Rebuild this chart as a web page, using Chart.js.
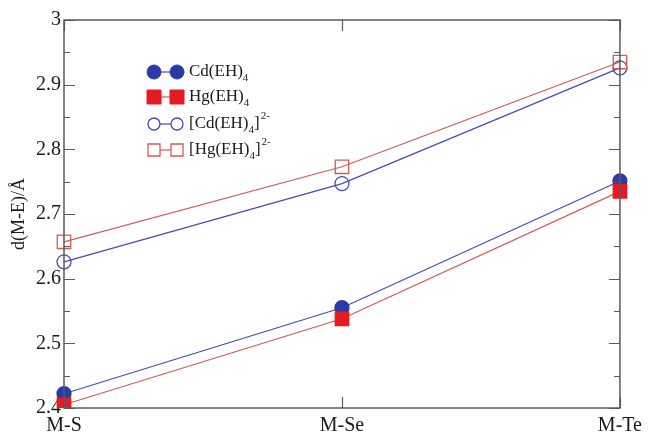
<!DOCTYPE html>
<html>
<head>
<meta charset="utf-8">
<script src="https://cdn.jsdelivr.net/npm/chart.js@4/dist/chart.umd.min.js"></script>
<style>
  html, body { margin: 0; padding: 0; background: #fff; }
  #wrap { width: 648px; height: 432px; }
</style>
</head>
<body>
<div id="wrap"><canvas id="myChart" width="648" height="432"></canvas></div>
<script>
// categories and values
const categories = ["M-S", "M-Se", "M-Te"];
const cdNeutral = [2.422, 2.555, 2.751];
const hgNeutral = [2.405, 2.538, 2.735];
const cdAnion = [2.626, 2.747, 2.926];
const hgAnion = [2.657, 2.773, 2.935];
const yTickLabels = [2.4, 2.5, 2.6, 2.7, 2.8, 2.9, 3];

const blue = "#2b3aa6";
const blueLine = "#4a4ab0";
const red = "#e61b22";
const redLine = "#d45a5a";
const frame = "#5a5a5a";
const serif = "'Liberation Serif', 'DejaVu Serif', serif";

// inward ticks plus the full box round the plot
const frameTicks = {
  id: "frameTicks",
  afterDraw(chart) {
    const c = chart.ctx;
    const a = chart.chartArea;
    const y = chart.scales.y;
    const x = chart.scales.x;
    c.save();
    c.strokeStyle = frame;
    c.lineWidth = 1.5;
    c.strokeRect(a.left, a.top, a.right - a.left, a.bottom - a.top);
    c.lineWidth = 1.2;
    c.beginPath();
    for (let i = 0; i < yTickLabels.length * 2 - 1; i++) {
      const v = 2.4 + i * 0.05;
      const py = Math.round(y.getPixelForValue(v)) + 0.5;
      const len = i % 2 === 0 ? 11 : 6;
      c.moveTo(a.left, py); c.lineTo(a.left + len, py);
      c.moveTo(a.right, py); c.lineTo(a.right - len, py);
    }
    categories.forEach((cat, i) => {
      const px = Math.round(x.getPixelForValue(i)) + 0.5;
      c.moveTo(px, a.bottom); c.lineTo(px, a.bottom - 11);
      c.moveTo(px, a.top); c.lineTo(px, a.top + 11);
    });
    c.stroke();
    c.restore();
  }
};

// legend with two markers joined by a line, sub- and superscripts
const legendEntries = [
  { name: "Cd(EH)", sup: "", style: "circle", fill: blue, stroke: blue, line: blueLine, r: 7 },
  { name: "Hg(EH)", sup: "", style: "rect", fill: red, stroke: red, line: redLine, r: 7 },
  { name: "[Cd(EH)", sup: "2-", style: "circle", fill: "#fff", stroke: blueLine, line: blueLine, r: 6, open: true },
  { name: "[Hg(EH)", sup: "2-", style: "rect", fill: "#fff", stroke: redLine, line: redLine, r: 6, open: true }
];

const boxLegend = {
  id: "boxLegend",
  afterDraw(chart) {
    const c = chart.ctx;
    const rows = [72, 97, 124, 150];
    const x1 = 154, x2 = 177, tx = 189;
    c.save();
    legendEntries.forEach((e, i) => {
      const yy = rows[i];
      c.strokeStyle = e.line;
      c.lineWidth = 1.2;
      c.beginPath(); c.moveTo(x1, yy); c.lineTo(x2, yy); c.stroke();
      [x1, x2].forEach(mx => {
        c.beginPath();
        if (e.style === "circle") c.arc(mx, yy, e.r, 0, Math.PI * 2);
        else c.rect(mx - e.r, yy - e.r, e.r * 2, e.r * 2);
        c.fillStyle = e.fill;
        c.fill();
        c.strokeStyle = e.stroke;
        c.lineWidth = e.open ? 1.3 : 1;
        c.stroke();
      });
      c.fillStyle = "#1a1a1a";
      c.textBaseline = "middle";
      c.font = "17px " + serif;
      c.fillText(e.name, tx, yy);
      let w = c.measureText(e.name).width;
      c.font = "11px " + serif;
      c.fillText("4", tx + w, yy + 6);
      w += c.measureText("4").width;
      if (e.sup) {
        c.font = "17px " + serif;
        c.fillText("]", tx + w, yy);
        w += c.measureText("]").width;
        c.font = "11px " + serif;
        c.fillText(e.sup, tx + w + 1, yy - 8);
      }
    });
    c.restore();
  }
};

function series(label, data, color, fill, style, radius, lineColor) {
  return {
    label: label,
    data: data,
    borderColor: lineColor,
    borderWidth: 1.2,
    pointStyle: style,
    pointRadius: radius,
    pointHoverRadius: radius,
    pointBackgroundColor: fill,
    pointBorderColor: color,
    pointBorderWidth: 1.3,
    tension: 0,
    fill: false
  };
}

const ctx = document.getElementById("myChart");

new Chart(ctx, {
  type: "line",
  data: {
    labels: categories,
    datasets: [
      series("[Hg(EH)4]2-", hgAnion, redLine, "rgba(0,0,0,0)", "rect", 9.5, redLine),
      series("[Cd(EH)4]2-", cdAnion, blueLine, "rgba(0,0,0,0)", "circle", 7, blueLine),
      series("Hg(EH)4", hgNeutral, red, red, "rect", 9.5, redLine),
      series("Cd(EH)4", cdNeutral, blue, blue, "circle", 7, blueLine)
    ]
  },
  options: {
    responsive: false,
    animation: false,
    events: [],
    layout: { padding: { top: 20, right: 26, left: 0, bottom: 0 } },
    plugins: { legend: { display: false }, tooltip: { enabled: false } },
    scales: {
      x: {
        type: "category",
        offset: false,
        grid: { display: false, drawTicks: false },
        border: { display: false },
        ticks: { color: "#1a1a1a", font: { family: serif, size: 20 }, padding: 6, maxRotation: 0 },
        afterFit(scale) { scale.height = 24; }
      },
      y: {
        min: 2.4,
        max: 3,
        grid: { display: false, drawTicks: false },
        border: { display: false },
        ticks: {
          stepSize: 0.1,
          color: "#1a1a1a",
          padding: 3,
          font: { family: serif, size: 20 },
          callback: (v) => yTickLabels.find(t => Math.abs(t - v) < 1e-6)
        },
        title: {
          display: true,
          text: "d(M-E)/Å",
          color: "#1a1a1a",
          font: { family: serif, size: 18 },
          padding: { top: 8, bottom: 0 }
        },
        afterFit(scale) { scale.width = 64; }
      }
    }
  },
  plugins: [frameTicks, boxLegend]
});
</script>
</body>
</html>
